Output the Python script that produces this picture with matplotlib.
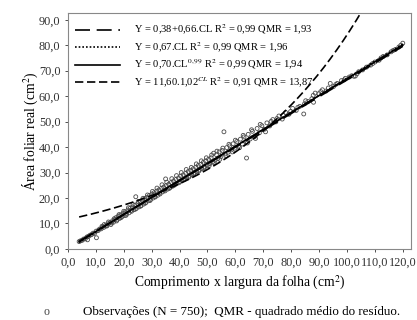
import numpy as np
import matplotlib.pyplot as plt

plt.rcParams['font.family'] = ['Liberation Serif', 'DejaVu Serif']
plt.rcParams['mathtext.fontset'] = 'stix'

obs_cl = [4.0, 4.5, 5.1, 5.6, 6.2, 6.8, 7.3, 7.0, 7.9, 8.4, 9.0, 9.5, 10.2, 10.1, 10.8, 11.3,
          11.9, 12.4, 12.9, 13.5, 14.0, 14.6, 15.1, 15.4, 16.0, 16.3, 16.9, 17.2, 17.6, 18.1,
          18.5, 18.9, 19.3, 19.8, 20.2, 20.6, 21.0, 21.5, 21.9, 22.3, 22.8, 23.1, 23.6, 24.0,
          24.3, 24.5, 25.0, 25.4, 25.9, 26.2, 26.7, 27.1, 27.5, 27.9, 28.3, 28.8, 29.2, 29.6,
          30.1, 30.5, 30.9, 31.3, 31.8, 32.2, 32.6, 33.0, 33.5, 33.9, 34.3, 34.8, 35.0, 35.2,
          35.7, 36.1, 36.5, 37.0, 37.4, 37.8, 38.3, 38.7, 39.1, 39.6, 40.0, 40.4, 40.9, 41.3,
          41.8, 42.2, 42.6, 43.1, 43.5, 44.0, 44.4, 44.9, 45.3, 45.8, 46.2, 46.7, 47.1, 47.6,
          48.0, 48.5, 49.0, 49.4, 49.9, 50.4, 50.8, 51.3, 51.8, 52.2, 52.7, 53.2, 53.7, 54.2,
          54.8, 55.3, 55.9, 56.3, 56.9, 57.4, 58.0, 58.6, 59.2, 59.8, 60.5, 61.2, 61.8, 62.5,
          63.1, 63.8, 64.0, 64.6, 65.3, 66.1, 66.9, 67.8, 68.6, 69.5, 70.4, 71.3, 72.3, 73.4,
          74.5, 75.6, 76.8, 78.0, 79.2, 80.5, 81.8, 83.1, 84.5, 84.8, 86.0, 87.4, 88.0, 88.6,
          89.9, 91.2, 92.5, 94.0, 95.2, 96.5, 98.0, 99.4, 100.8, 102.5, 103.6, 104.2, 105.6,
          107.0, 108.5, 110.0, 111.5, 113.0, 114.4, 115.8, 117.3, 118.6, 120.0,
          12.2, 13.0, 13.8, 14.5, 15.6, 16.6, 17.4, 18.3, 19.0, 20.0, 20.8, 21.7, 22.5, 23.3,
          24.1, 25.2, 26.0, 26.9, 27.7, 28.5, 29.4, 30.3, 31.1, 31.9, 32.8, 33.7, 34.5, 35.4,
          36.3, 37.2, 38.0, 38.9, 39.8, 40.6, 41.5, 42.4, 43.3, 44.2, 45.1, 46.0, 46.9, 47.8,
          48.7, 49.6, 50.6, 51.5, 52.4, 53.4, 54.4, 55.5, 56.6, 57.7, 58.9, 60.0, 61.5, 62.8,
          64.3, 65.8, 67.2, 68.9, 70.8, 72.8, 74.9, 77.2, 79.8, 82.4, 85.2, 87.9, 90.6, 93.3,
          96.0, 99.0, 101.7, 103.0, 109.2, 112.2, 116.5, 119.3]
obs_af = [2.9, 3.2, 3.4, 3.9, 4.0, 4.7, 4.9, 3.6, 5.4, 5.6, 6.2, 6.1, 4.4, 7.0, 7.2, 7.8,
          7.9, 8.6, 8.5, 9.3, 9.1, 10.0, 10.4, 9.6, 11.1, 10.5, 11.6, 12.3, 11.4, 12.9,
          12.0, 13.4, 12.6, 14.1, 13.1, 14.6, 13.7, 15.3, 14.2, 16.0, 14.8, 16.5, 15.4, 17.2,
          20.5, 15.9, 17.8, 16.5, 18.4, 17.0, 19.1, 17.6, 19.8, 18.2, 20.3, 18.9, 21.0, 19.4,
          21.6, 20.0, 22.1, 20.4, 22.7, 21.1, 23.2, 21.6, 23.8, 22.4, 24.3, 22.8, 27.5, 24.9,
          23.5, 25.4, 24.0, 26.1, 24.6, 26.7, 25.2, 27.3, 25.8, 27.9, 26.4, 28.6, 27.0, 29.1,
          27.4, 29.7, 28.0, 30.4, 28.6, 30.9, 29.3, 31.5, 29.8, 32.1, 30.4, 32.8, 31.0, 33.2,
          31.5, 34.0, 32.2, 34.6, 32.8, 35.2, 33.5, 35.8, 34.1, 37.6, 34.8, 37.0, 35.5, 38.1,
          36.2, 38.7, 46.0, 37.3, 39.8, 38.0, 40.5, 38.9, 41.3, 39.6, 42.2, 40.4, 43.1, 41.2,
          44.0, 42.1, 35.7, 45.0, 43.2, 46.2, 44.1, 47.3, 45.6, 48.4, 47.0, 49.5, 48.3, 50.8,
          49.9, 52.2, 51.0, 53.6, 52.9, 55.2, 54.4, 56.0, 53.0, 57.0, 57.9, 59.0, 57.6, 61.2,
          61.0, 62.5, 62.0, 65.0, 63.8, 65.0, 66.1, 67.0, 67.5, 67.8, 68.8, 69.6, 70.3,
          71.4, 72.2, 73.4, 74.1, 75.6, 76.2, 77.4, 78.3, 79.3, 80.8,
          8.9, 9.6, 9.0, 10.6, 10.2, 11.9, 11.0, 13.5, 12.3, 14.8, 13.2, 16.2, 15.0, 17.4,
          15.6, 18.6, 16.8, 19.9, 18.0, 21.2, 19.0, 22.6, 20.6, 23.9, 21.9, 25.2, 23.1, 26.2,
          23.8, 27.6, 25.0, 28.8, 26.0, 30.0, 27.2, 31.2, 28.2, 32.0, 29.4, 33.4, 30.6, 34.6,
          31.8, 35.8, 32.7, 36.9, 33.9, 38.4, 35.2, 39.6, 36.6, 41.1, 38.1, 42.7, 39.8, 44.6,
          41.6, 46.8, 43.4, 48.9, 46.0, 50.1, 51.2, 52.4, 54.0, 55.6, 58.2, 60.3, 61.8, 63.2,
          64.6, 66.4, 68.0, 67.9, 72.8, 75.0, 77.9, 80.0]

# fitted models shown in the legend
lin_a, lin_b = 0.38, 0.66
prop_b = 0.67
pow_a, pow_b = 0.70, 0.99
exp_a, exp_b = 11.60, 1.02

labels = ["Y = 0,38+0,66.CL R$^2$ = 0,99 QMR = 1,93",
          "Y = 0,67.CL R$^2$ = 0,99 QMR = 1,96",
          "Y = 0,70.CL$^{0,99}$ R$^2$ = 0,99 QMR = 1,94",
          "Y = 11,60.1,02$^{CL}$ R$^2$ = 0,91 QMR = 13,87"]

fig = plt.figure(figsize=(4.17, 3.20), dpi=100)
ax = fig.add_axes([0.163, 0.222, 0.823, 0.737])

ax.scatter(obs_cl, obs_af, s=8, facecolors='none', edgecolors='#4a4a4a',
           linewidths=0.6, zorder=2)

cl = np.linspace(4, 120, 300)
ax.plot(cl, lin_a + lin_b * cl, color='black', lw=1.2, dashes=(9, 4), label=labels[0], zorder=3)
ax.plot(cl, prop_b * cl, color='black', lw=1.2, linestyle=(0, (1, 1.2)), label=labels[1], zorder=3)
ax.plot(cl, pow_a * cl ** pow_b, color='black', lw=1.2, label=labels[2], zorder=3)
ax.plot(cl, exp_a * exp_b ** cl, color='black', lw=1.2, dashes=(5, 2.2), label=labels[3], zorder=3)

ax.set_xlim(0, 123)
ax.set_ylim(0, 92.6)
ax.set_xticks(np.arange(0, 121, 10))
ax.set_yticks(np.arange(0, 91, 10))
ax.set_xticklabels([f"{v:.1f}".replace('.', ',') for v in np.arange(0, 121, 10)])
ax.set_yticklabels([f"{v:.1f}".replace('.', ',') for v in np.arange(0, 91, 10)])
ax.tick_params(labelsize=8.8, length=2.5, width=0.6, pad=3, colors='#333333')
for s in ax.spines.values():
    s.set_color('#888888')
    s.set_linewidth(0.8)

ax.set_xlabel("Comprimento x largura da folha (cm$^2$)", fontsize=9.8, labelpad=4)
ax.set_ylabel("Área foliar real (cm$^2$)", fontsize=9.8, labelpad=-1)

ax.legend(loc='upper left', frameon=False, fontsize=7.6, handlelength=4.2,
          handletextpad=1.4, labelspacing=0.3, borderaxespad=0.3,
          bbox_to_anchor=(0.0, 0.99))

fig.text(0.105, 0.026, "o", fontsize=8.5, color='#444444', va='center')
fig.text(0.199, 0.026, "Observações (N = 750);  QMR - quadrado médio do resíduo.",
         fontsize=9.4, va='center')

fig.savefig("out.png", dpi=100, facecolor="white")
